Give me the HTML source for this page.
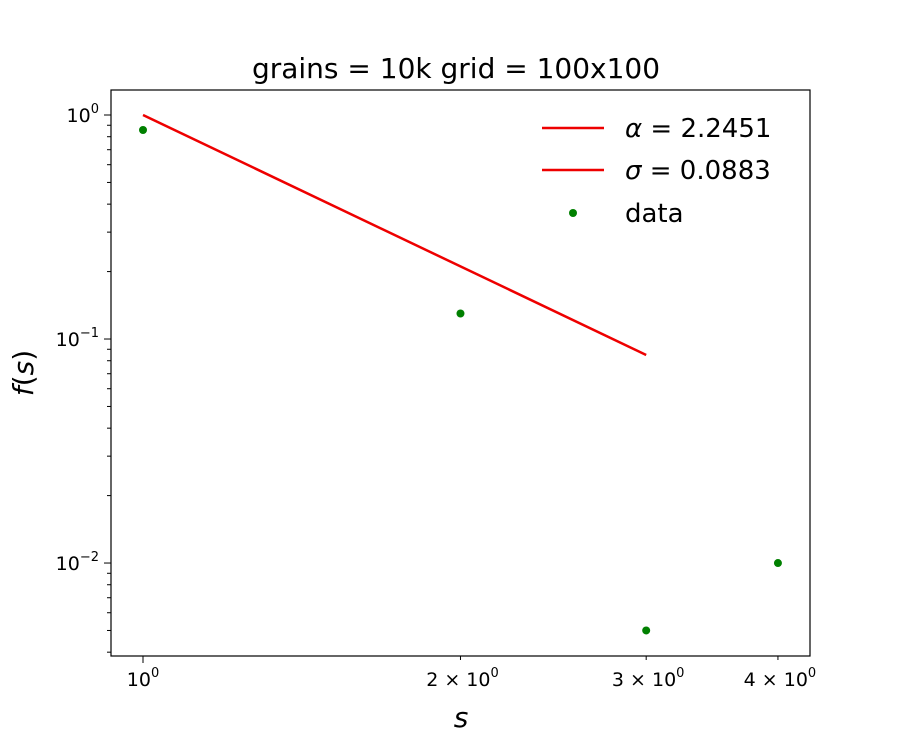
<!DOCTYPE html>
<html><head><meta charset="utf-8"><style>
html,body{margin:0;padding:0;background:#fff;}
svg text{font-family:"DejaVu Sans","Liberation Sans",sans-serif;}
</style></head><body>
<svg id="chart" width="900" height="750" xmlns="http://www.w3.org/2000/svg">
<rect width="900" height="750" fill="#fff"/>
<text x="456" y="78" font-size="28" text-anchor="middle">grains = 10k grid = 100x100</text>
<g id="plot"></g>
<text x="461" y="727" font-size="28" font-style="italic" text-anchor="middle">s</text>
<text transform="translate(33,373) rotate(-90)" font-size="28" text-anchor="middle"><tspan font-style="italic">f</tspan>(<tspan font-style="italic">s</tspan>)</text>
<g>
<line x1="542" y1="128" x2="604" y2="128" stroke="#e00" stroke-width="2.5"/>
<text x="625" y="137" font-size="26"><tspan font-style="italic">α</tspan> = 2.2451</text>
<line x1="542" y1="170" x2="604" y2="170" stroke="#e00" stroke-width="2.5"/>
<text x="625" y="179" font-size="26"><tspan font-style="italic">σ</tspan> = 0.0883</text>
<circle cx="573" cy="213" r="4" fill="#008000"/>
<text x="625" y="222" font-size="26">data</text>
</g>
</svg>
<script>
const xs = [1, 2, 3, 4];
const ys = [0.857, 0.13, 0.005, 0.01];
const fitX = [1, 3];
const alpha = 2.2451;
const xTicks = [1, 2, 3, 4];
const xTickLabels = ["10^0", "2 × 10^0", "3 × 10^0", "4 × 10^0"];
const yTicks = [1, 0.1, 0.01];
const yTickLabels = ["0", "−1", "−2"];

const L=111,R=810,T=90,B=656;
const xMin=Math.log10(0.9325), xMax=Math.log10(4.29);
const yMin=-2.415, yMax=0.1116;
const X=v=>L+(Math.log10(v)-xMin)/(xMax-xMin)*(R-L);
const Y=v=>B-(Math.log10(v)-yMin)/(yMax-yMin)*(B-T);
const NS="http://www.w3.org/2000/svg";
const g=document.getElementById('plot');
function mk(tag,attrs,parent){const e=document.createElementNS(NS,tag);for(const k in attrs)e.setAttribute(k,attrs[k]);(parent||g).appendChild(e);return e;}

for(let d=-3; d<=0; d++){
  for(let m=1;m<=9;m++){
    const v=m*Math.pow(10,d); const y=Y(v);
    if(y<T-0.5||y>B+0.5) continue;
    const t=mk('line',{x1:L,x2:L-(m===1?7:4),y1:y,y2:y,stroke:'#000','stroke-width':1});
    
    
  }
}
yTicks.forEach((v,i)=>{
  const t=mk('text',{x:L-12,y:Y(v)+7,'font-size':19,'text-anchor':'end'});
  
  
  t.innerHTML='10<tspan dy="-9" font-size="13">'+yTickLabels[i]+'</tspan>';
});
xTicks.forEach((v,i)=>{
  const x=X(v);
  const t=mk('line',{x1:x,x2:x,y1:B,y2:B+(i===0?7:4),stroke:'#000','stroke-width':1});
  
  
  const lab=mk('text',{x:x+(i===0?0:2),y:B+30,'font-size':19,'text-anchor':'middle'});
  
  
  const pre = xTickLabels[i].split('10^')[0];
  lab.innerHTML=pre+'10<tspan dy="-9" font-size="13">0</tspan>';
});
const fl=mk('line',{x1:X(fitX[0]),y1:Y(Math.pow(fitX[0],-alpha)),x2:X(fitX[1]),y2:Y(Math.pow(fitX[1],-alpha)),stroke:'#e00','stroke-width':2.5});


xs.forEach((v,i)=>{
  const c=mk('circle',{cx:X(v),cy:Y(ys[i]),r:4,fill:'#008000'});
  
  
});
const fr=mk('rect',{x:L,y:T,width:R-L,height:B-T,fill:'none',stroke:'#000','stroke-width':1.2});


</script>
</body></html>
